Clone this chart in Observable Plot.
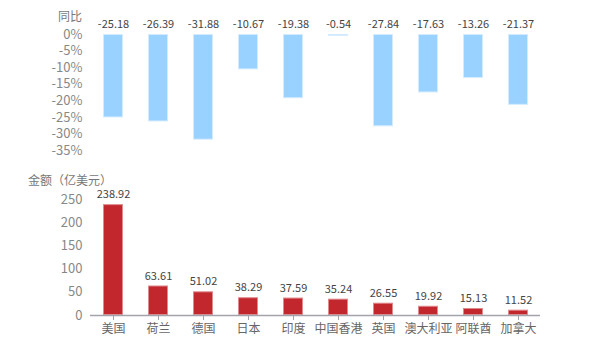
<!DOCTYPE html>
<html>
<head>
<meta charset="utf-8">
<script src="https://cdn.jsdelivr.net/npm/d3@7"></script>
<script src="https://cdn.jsdelivr.net/npm/@observablehq/plot@0.6"></script>
<style>
  html, body { margin: 0; padding: 0; background: #fff; }
  #wrap { position: relative; width: 600px; height: 350px; font-family: "Noto Sans CJK SC", "Noto Sans", sans-serif; }
  #wrap .panel { position: absolute; left: 0; }
  .lab { position: absolute; font-size: 12px; color: #777; white-space: nowrap; line-height: 1; }
</style>
</head>
<body>
<div id="wrap">
  <div class="panel" id="top" style="top:0"></div>
  <div class="panel" id="bottom" style="top:170px"></div>
  <span class="lab" style="left:58px; top:10px;">同比</span>
  <span class="lab" style="left:28px; top:174px;">金额（亿美元）</span>
</div>
<script>
const categories = ["美国", "荷兰", "德国", "日本", "印度", "中国香港", "英国", "澳大利亚", "阿联酋", "加拿大"];
const yoy = [-25.18, -26.39, -31.88, -10.67, -19.38, -0.54, -27.84, -17.63, -13.26, -21.37];
const amount = [238.92, 63.61, 51.02, 38.29, 37.59, 35.24, 26.55, 19.92, 15.13, 11.52];
const yoyTicks = [0, -5, -10, -15, -20, -25, -30, -35];
const amountTicks = [0, 50, 100, 150, 200, 250];

const topData = categories.map((c, i) => ({c, v: yoy[i]}));
const botData = categories.map((c, i) => ({c, v: amount[i]}));

const font = '"Noto Sans CJK SC", "Noto Sans", sans-serif';
const xScale = {domain: categories, paddingInner: 0.556, paddingOuter: 0.278};

const topPlot = Plot.plot({
  width: 600, height: 170,
  marginLeft: 90, marginRight: 60, marginTop: 34, marginBottom: 20,
  style: {fontFamily: font, fontSize: "13px", color: "#888", background: "transparent", overflow: "visible"},
  x: {...xScale, axis: null},
  y: {domain: [-35, 0], ticks: yoyTicks, tickFormat: d => d + "%", tickSize: 0, tickPadding: 8, label: null},
  marks: [
    Plot.barY(topData, {x: "c", y: "v", fill: "#99D1FF", stroke: "#D4EBFF", strokeWidth: 1, inset: 0.5}),
    Plot.text(topData, {x: "c", y: () => 0, text: d => d.v.toFixed(2), dy: -10, fill: "#444", fontSize: 11, textAnchor: "middle", lineAnchor: "middle"})
  ]
});
document.getElementById("top").appendChild(topPlot);

const botPlot = Plot.plot({
  width: 600, height: 180,
  marginLeft: 90, marginRight: 60, marginTop: 29, marginBottom: 35,
  style: {fontFamily: font, fontSize: "13px", color: "#888", background: "transparent", overflow: "visible"},
  x: {...xScale, tickSize: 5, tickPadding: 4, label: null},
  y: {domain: [0, 250], ticks: amountTicks, tickSize: 0, tickPadding: 8, label: null},
  marks: [
    Plot.barY(botData, {x: "c", y: "v", fill: "#C1272D", stroke: "#E08A8E", strokeWidth: 1, inset: 0.5}),
    Plot.ruleY([0], {stroke: "#A3A3AB", strokeWidth: 1.5}),
    Plot.axisX({tickSize: 5, tickPadding: 4, stroke: "#A3A3AB", color: "#666", fontSize: 12, label: null}),
    Plot.text(botData, {x: "c", y: "v", text: d => d.v.toFixed(2), dy: -10, fill: "#444", fontSize: 11, textAnchor: "middle", lineAnchor: "middle"})
  ]
});
document.getElementById("bottom").appendChild(botPlot);
</script>
</body>
</html>
